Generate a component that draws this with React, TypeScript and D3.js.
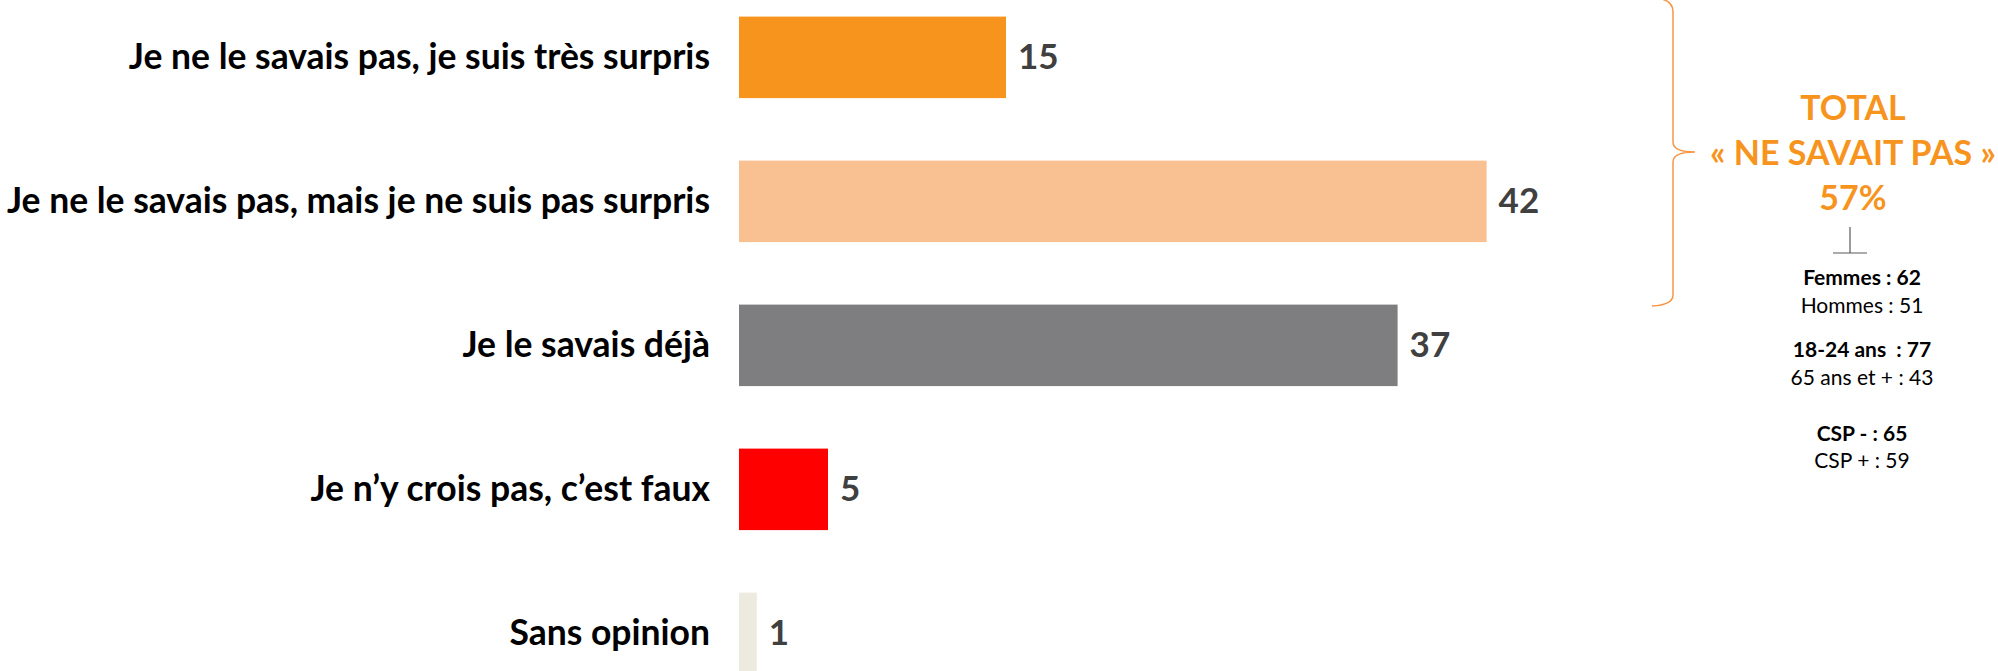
import React from "react";
import * as d3 from "d3";

const categories = [
  "Je ne le savais pas, je suis très surpris",
  "Je ne le savais pas, mais je ne suis pas surpris",
  "Je le savais déjà",
  "Je n’y crois pas, c’est faux",
  "Sans opinion",
];
const values = [15, 42, 37, 5, 1];
const colors = ["#F7941E", "#F9C192", "#7E7E80", "#FF0000", "#EDEBE0"];

const totalLines = ["TOTAL", "« NE SAVAIT PAS »", "57%"];
const detailLines: { text: string; bold: boolean; y: number }[] = [
  { text: "Femmes : 62", bold: true, y: 285 },
  { text: "Hommes : 51", bold: false, y: 313 },
  { text: "18-24 ans  : 77", bold: true, y: 357 },
  { text: "65 ans et + : 43", bold: false, y: 385 },
  { text: "CSP - : 65", bold: true, y: 441 },
  { text: "CSP + : 59", bold: false, y: 468 },
];

const W = 1998;
const H = 671;
const FONT = "Lato, 'Open Sans', sans-serif";

export default function App() {
  const y = d3
    .scaleBand<string>()
    .domain(categories)
    .range([-14.65, 705.35])
    .paddingInner(0.434)
    .paddingOuter(0.217);
  const x = d3.scaleLinear().domain([0, 50]).range([739, 739 + 890]);

  const bracePath = d3.path();
  // curly brace "}" with tip pointing right
  bracePath.moveTo(1652, -2);
  bracePath.quadraticCurveTo(1673, -2, 1673, 12);
  bracePath.lineTo(1673, 142);
  bracePath.quadraticCurveTo(1673, 152, 1695, 152);
  bracePath.quadraticCurveTo(1673, 152, 1673, 162);
  bracePath.lineTo(1673, 295);
  bracePath.quadraticCurveTo(1673, 305, 1652, 306);

  return (
    <svg
      width={W}
      height={H}
      style={{ position: "absolute", left: 0, top: 0, background: "#fff" }}
      fontFamily={FONT}
    >
      {categories.map((c, i) => {
        const by = y(c)!;
        const bh = y.bandwidth();
        const cy = by + bh / 2;
        return (
          <g key={c}>
            <rect x={x(0)} y={by} width={x(values[i]) - x(0)} height={bh} fill={colors[i]} />
            <text
              x={710}
              y={cy + 12}
              textAnchor="end"
              fontWeight="bold"
              fontSize={35.5}
              fill="#000"
            >
              {c}
            </text>
            <text
              x={x(values[i]) + 12}
              y={cy + 12}
              fontWeight="bold"
              fontSize={35}
              fill="#404040"
            >
              {values[i]}
            </text>
          </g>
        );
      })}
      <path d={bracePath.toString()} fill="none" stroke="#F79646" strokeWidth={1.5} />
      {totalLines.map((t, i) => (
        <text
          key={t}
          x={1853}
          y={120 + i * 45}
          textAnchor="middle"
          fontWeight="bold"
          fontSize={34}
          fill="#F7941E"
        >
          {t}
        </text>
      ))}
      <line x1={1850} x2={1850} y1={227} y2={253} stroke="#595959" strokeWidth={1.2} />
      <line x1={1833} x2={1867} y1={253} y2={253} stroke="#595959" strokeWidth={1.2} />
      {detailLines.map((d) => (
        <text
          key={d.text}
          x={1862}
          y={d.y}
          textAnchor="middle"
          fontWeight={d.bold ? "bold" : "normal"}
          fontSize={21}
          fill="#000"
          style={{ whiteSpace: "pre" }}
        >
          {d.text}
        </text>
      ))}
    </svg>
  );
}
